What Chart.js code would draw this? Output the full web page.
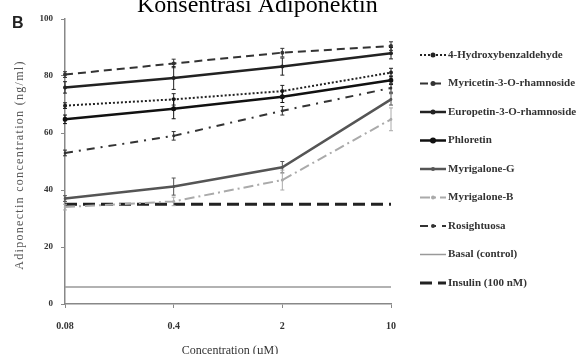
<!DOCTYPE html>
<html>
<head>
<meta charset="utf-8">
<script src="https://cdn.jsdelivr.net/npm/chart.js@4/dist/chart.umd.min.js"></script>
<style>
html,body{margin:0;padding:0;background:#fff;}
#wrap{position:relative;width:578px;height:354px;}
</style>
</head>
<body>
<div id="wrap"><canvas id="c" width="578" height="354"></canvas></div>
<script>
const titleText = 'Konsentrasi Adiponektin';
const panelLabel = 'B';
const categories = ['0.08', '0.4', '2', '10'];
const yTicks = [0, 20, 40, 60, 80, 100];
const xTitle = 'Concentration (\u00b5M)';
const yTitle = 'Adiponectin concentration (ng/ml)';

const seriesNames = ['4-Hydroxybenzaldehyde', 'Myricetin-3-O-rhamnoside', 'Europetin-3-O-rhamnoside', 'Phloretin', 'Myrigalone-G', 'Myrigalone-B', 'Rosightuosa', 'Basal (control)', 'Insulin (100 nM)'];

const hydroxy    = [69.6, 71.8, 74.7, 81.2];
const myricetin  = [80.5, 84.4, 88.2, 90.5];
const europetin  = [76.0, 79.3, 83.3, 88.0];
const phloretin  = [64.8, 68.5, 72.7, 78.5];
const myrigG     = [37.0, 41.2, 48.0, 71.8];
const myrigB     = [34.0, 36.0, 43.5, 64.8];
const rosight    = [53.0, 59.0, 67.8, 75.8];
const basal      = [6, 6, 6, 6];
const insulin    = [35, 35, 35, 35];

const hydroxyErr   = [1, 2, 2, 1.5];
const myricetinErr = [1, 1.5, 1.5, 1.5];
const europetinErr = [2, 4, 3, 2];
const phloretinErr = [1.5, 3.5, 2, 1.5];
const myrigGErr    = [1, 3, 2, 2];
const myrigBErr    = [1, 1.5, 3.5, 4];
const rosightErr   = [1, 1.5, 1.5, 1.5];

function ds(label, data, color, width, dash, radius, errors) {
  return {
    label, data, errors,
    borderColor: color, backgroundColor: color,
    borderWidth: width, borderDash: dash,
    pointRadius: radius, pointHoverRadius: radius,
    pointBorderWidth: 0, tension: 0, fill: false
  };
}

const datasets = [
  ds(seriesNames[0], hydroxy,   '#222', 2,   [2, 2],        2,   hydroxyErr),
  ds(seriesNames[1], myricetin, '#333', 2,   [8, 5],        2,   myricetinErr),
  ds(seriesNames[2], europetin, '#222', 2.5, [],            2,   europetinErr),
  ds(seriesNames[3], phloretin, '#111', 2.5, [],            2.5, phloretinErr),
  ds(seriesNames[4], myrigG,    '#555', 2.5, [],            1.5, myrigGErr),
  ds(seriesNames[5], myrigB,    '#aaa', 2,   [10, 4, 2, 4], 1.5, myrigBErr),
  ds(seriesNames[6], rosight,   '#333', 2,   [8, 6, 2, 6],  1.5, rosightErr),
  ds(seriesNames[7], basal,     '#999', 1.5, [],            0,   null),
  ds(seriesNames[8], insulin,   '#222', 3,   [12, 6],       0,   null)
];

const extras = {
  id: 'extras',
  afterDatasetsDraw(chart) {
    const ctx = chart.ctx;
    const ys = chart.scales.y;
    ctx.save();
    chart.data.datasets.forEach((d, i) => {
      if (!d.errors) return;
      const meta = chart.getDatasetMeta(i);
      ctx.strokeStyle = d.borderColor;
      ctx.lineWidth = 1;
      ctx.setLineDash([]);
      meta.data.forEach((pt, j) => {
        const e = d.errors[j];
        const y1 = ys.getPixelForValue(d.data[j] - e);
        const y2 = ys.getPixelForValue(d.data[j] + e);
        ctx.beginPath();
        ctx.moveTo(pt.x, y1); ctx.lineTo(pt.x, y2);
        ctx.moveTo(pt.x - 2, y1); ctx.lineTo(pt.x + 2, y1);
        ctx.moveTo(pt.x - 2, y2); ctx.lineTo(pt.x + 2, y2);
        ctx.stroke();
      });
    });
    ctx.restore();
  },
  afterDraw(chart) {
    const ctx = chart.ctx;
    const area = chart.chartArea;
    ctx.save();
    // title (cut at top)
    ctx.fillStyle = '#000';
    ctx.font = '24px "Liberation Serif", serif';
    ctx.textBaseline = 'alphabetic';
    ctx.textAlign = 'left';
    ctx.fillText(titleText, 137, 12);
    // panel label
    ctx.font = 'bold 16px "Liberation Sans", sans-serif';
    ctx.fillStyle = '#222';
    ctx.fillText(panelLabel, 12, 28);
    // x axis title
    ctx.font = '12px "Liberation Serif", serif';
    ctx.fillStyle = '#333';
    ctx.textAlign = 'center';
    ctx.textBaseline = 'middle';
    ctx.fillText(xTitle, (area.left + area.right) / 2 + 2, 351);
    // y axis title (spaced letters)
    ctx.save();
    ctx.translate(20, 165);
    ctx.rotate(-Math.PI / 2);
    ctx.font = '12px "Liberation Serif", serif';
    ctx.fillStyle = '#555';
    ctx.textAlign = 'center';
    ctx.textBaseline = 'middle';
    try { ctx.letterSpacing = '1.3px'; } catch (e) {}
    ctx.fillText(yTitle, 0, 0);
    ctx.restore();
    // legend
    ctx.font = 'bold 11px "Liberation Serif", serif';
    ctx.textBaseline = 'middle';
    ctx.textAlign = 'left';
    chart.data.datasets.forEach((d, i) => {
      const y = 55 + i * 28.5;
      ctx.strokeStyle = d.borderColor;
      ctx.lineWidth = d.borderWidth;
      ctx.setLineDash(d.borderDash || []);
      ctx.beginPath();
      ctx.moveTo(420, y); ctx.lineTo(446, y);
      ctx.stroke();
      ctx.setLineDash([]);
      if (d.pointRadius > 0) {
        ctx.fillStyle = d.borderColor;
        ctx.beginPath();
        ctx.arc(433, y, d.pointRadius + 0.5, 0, Math.PI * 2);
        ctx.fill();
      }
      ctx.fillStyle = '#333';
      ctx.fillText(d.label, 448, y);
    });
    ctx.restore();
  }
};

new Chart(document.getElementById('c'), {
  type: 'line',
  data: { labels: categories, datasets },
  plugins: [extras],
  options: {
    responsive: false,
    animation: false,
    events: [],
    layout: { padding: { left: 0, top: 19, right: 187, bottom: 0 } },
    plugins: { legend: { display: false }, tooltip: { enabled: false }, title: { display: false } },
    scales: {
      x: {
        type: 'category',
        offset: false,
        afterFit(s) { s.height = 50; },
        border: { display: true, color: '#888', width: 1.5 },
        grid: { drawOnChartArea: false, drawTicks: true, tickLength: 4, color: '#888' },
        ticks: { color: '#333', padding: 12, font: { family: '"Liberation Serif", serif', size: 10, weight: 'bold' }, maxRotation: 0 },
        title: { display: false }
      },
      y: {
        min: 0, max: 100,
        afterFit(s) { s.width = 65; },
        afterBuildTicks(s) { s.ticks = yTicks.map(v => ({ value: v })); },
        border: { display: true, color: '#888', width: 1.5 },
        grid: { drawOnChartArea: false, drawTicks: true, tickLength: 4, color: '#888' },
        ticks: { color: '#333', padding: 8, font: { family: '"Liberation Serif", serif', size: 9, weight: 'bold' } },
        title: { display: false }
      }
    }
  }
});
</script>
</body>
</html>
